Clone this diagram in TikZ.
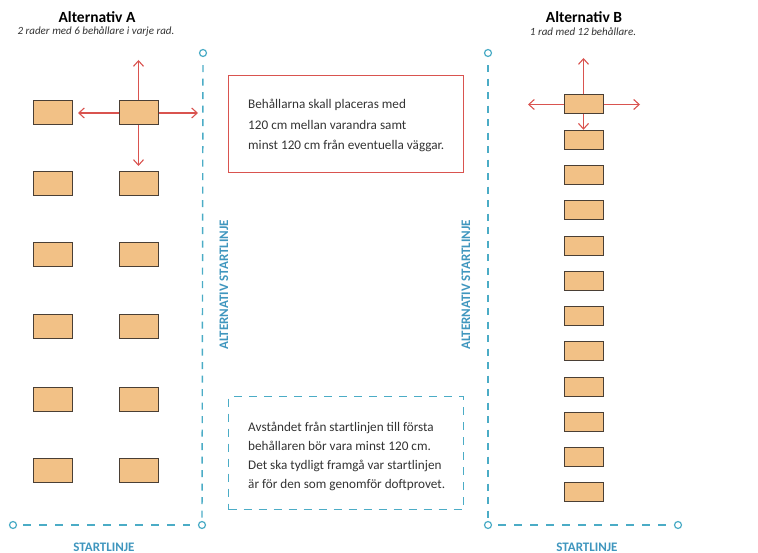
\documentclass[tikz,border=0pt]{standalone}
\usepackage{fontspec}
\setmainfont{Carlito}
\usetikzlibrary{arrows.meta}
\definecolor{boxfill}{HTML}{F2C186}
\definecolor{boxline}{HTML}{4A3F35}
\definecolor{arrred}{HTML}{D9534F}
\definecolor{teal}{HTML}{4BACC6}
\definecolor{labblue}{HTML}{3F96BE}
\definecolor{txt}{HTML}{333333}
\tikzset{
  cont/.style={draw=boxline, fill=boxfill, line width=1pt, minimum width=39pt, inner sep=0pt},
  contA/.style={cont, minimum height=24pt},
  contB/.style={cont, minimum height=19pt},
  spacing/.style={draw=arrred, line width=1.1pt, -{Straight Barb[length=5.5pt,width=10pt,line width=1.1pt]}},
  endpt/.style={circle, draw=teal, fill=white, line width=1.2pt, minimum size=7pt, inner sep=0pt},
  vline/.style={draw=teal, line width=1.4pt, dash pattern=on 7pt off 6.5pt},
  hline/.style={draw=teal, line width=1.4pt, dash pattern=on 8pt off 8pt},
  title/.style={font=\fontsize{15.5}{18}\selectfont\bfseries, text=black},
  subtitle/.style={font=\fontsize{11}{13}\selectfont\itshape, text=txt},
  slabel/.style={font=\fontsize{13}{15}\selectfont\bfseries, text=labblue},
  note/.style={text=txt, align=left, anchor=north west, inner sep=0pt},
}
\begin{document}
\begin{tikzpicture}[x=1pt, y=-1pt]
\useasboundingbox (0,0) rectangle (758,553);

% titles
\node[title] (tA) at (97,17) {Alternativ A};
\node[subtitle] (sA) at (96,32) {2 rader med 6 behållare i varje rad.};
\node[title] (tB) at (584,17) {Alternativ B};
\node[subtitle] (sB) at (583,32) {1 rad med 12 behållare.};

% Alternativ A containers
\foreach \i/\y in {1/113,2/184,3/255,4/327,5/399,6/470}{
  \node[contA] (aL\i) at (53,\y) {};
  \node[contA] (aR\i) at (138.5,\y) {};
}
\coordinate (aUp) at (138.5,60);
\coordinate (aDown) at (138.5,166);
\coordinate (aLeft) at (78,113);
\coordinate (aRight) at (198,113);
\draw[spacing] (aR1.north) -- (aUp);
\draw[spacing] (aR1.south) -- (aDown);
\draw[spacing] (aR1.west) -- (aLeft);
\draw[spacing] (aR1.east) -- (aRight);

% Alternativ B containers
\foreach \i in {1,...,12}{
  \node[contB] (b\i) at (583.5,{104.5+(\i-1)*35.27}) {};
}
\coordinate (bUp) at (583.5,58);
\coordinate (bLeft) at (528,104.5);
\coordinate (bRight) at (640,104.5);
\draw[spacing] (b1.north) -- (bUp);
\draw[spacing] (b1.south) -- (b2.north);
\draw[spacing] (b1.west) -- (bLeft);
\draw[spacing] (b1.east) -- (bRight);

% start lines
\node[endpt] (pA0) at (13,525) {};
\node[endpt] (pA1) at (202,525) {};
\node[endpt] (pA2) at (203,53) {};
\node[endpt] (pB1) at (488,525) {};
\node[endpt] (pB2) at (488,53) {};
\node[endpt] (pB3) at (678,525) {};

\draw[vline, shorten <=8pt, shorten >=3pt] (pA2) -- (pA1);
\draw[vline, shorten <=8pt, shorten >=3pt] (pB2) -- (pB1);
\draw[hline, shorten <=6pt, shorten >=8pt] (pA0) -- (pA1);
\draw[hline, shorten <=6pt, shorten >=8pt] (pB1) -- (pB3);

\node[slabel] (lA) at (104,547) {STARTLINJE};
\node[slabel] (lB) at (587,547) {STARTLINJE};
\node[slabel, rotate=90] (vA) at (224,285) {ALTERNATIV STARTLINJE};
\node[slabel, rotate=90] (vB) at (466,285) {ALTERNATIV STARTLINJE};

% notes
\node[draw=arrred, line width=1.3pt, minimum width=235pt, minimum height=97pt, anchor=north west] (r1) at (228,75) {};
\node[note, font=\fontsize{13.2}{20.5}\selectfont] (t1) at (248,99) {Behållarna skall placeras med\\120 cm mellan varandra samt\\minst 120 cm från eventuella väggar.};

\node[draw=teal, line width=1.2pt, dash pattern=on 8pt off 7pt, minimum width=235pt, minimum height=113pt, anchor=north west] (r2) at (228,396) {};
\node[note, font=\fontsize{13.2}{19}\selectfont] (t2) at (248,421.5) {Avståndet från startlinjen till första\\behållaren bör vara minst 120 cm.\\Det ska tydligt framgå var startlinjen\\är för den som genomför doftprovet.};
\end{tikzpicture}
\end{document}
